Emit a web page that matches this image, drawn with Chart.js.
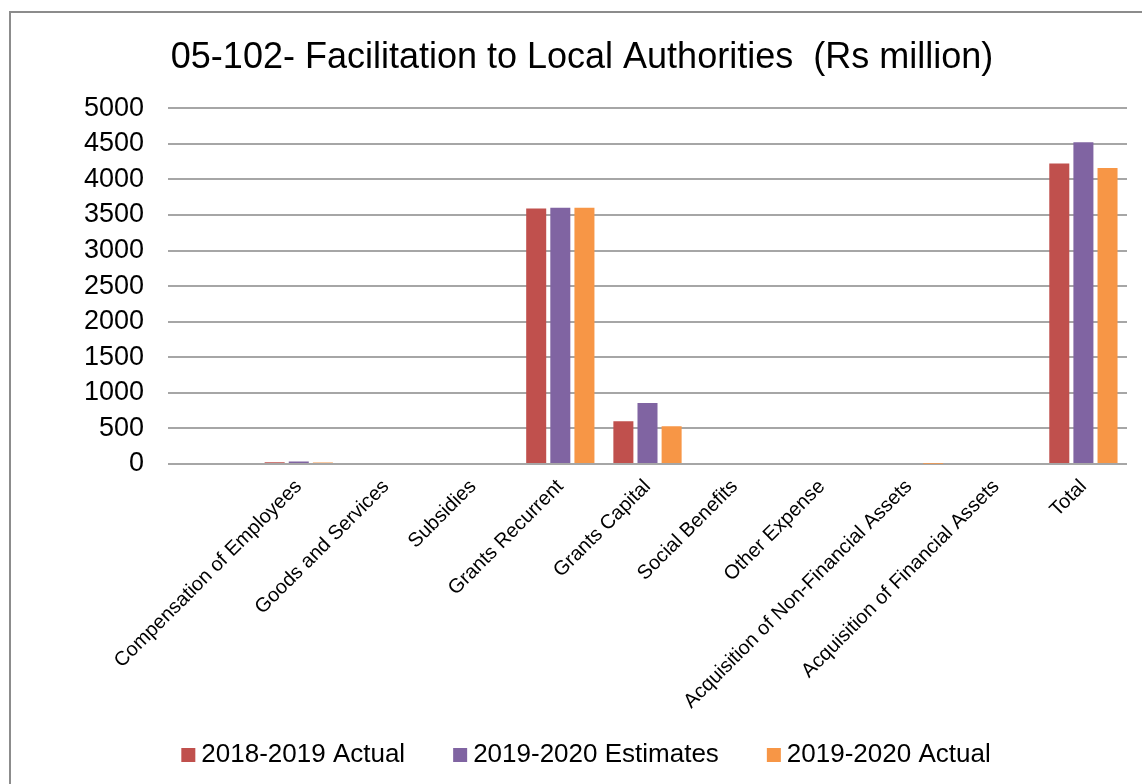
<!DOCTYPE html>
<html>
<head>
<meta charset="utf-8">
<script src="https://cdn.jsdelivr.net/npm/chart.js@4.4.1/dist/chart.umd.min.js"></script>
<style>
  html, body { margin: 0; padding: 0; background: #ffffff; }
  body { width: 1142px; height: 784px; overflow: hidden; position: relative; }
  #frame { position: absolute; left: 9px; top: 11px; width: 1160px; height: 800px;
           border: 2px solid #8c8c8c; box-sizing: border-box; }
  #wrap { position: absolute; left: 0; top: 0; width: 1142px; height: 784px; }
</style>
</head>
<body>
<div id="frame"></div>
<div id="wrap"><canvas id="chart"></canvas></div>
<script>
const categories = [
  '',
  'Compensation of Employees',
  'Goods and Services',
  'Subsidies',
  'Grants Recurrent',
  'Grants Capital',
  'Social Benefits',
  'Other Expense',
  'Acquisition of Non-Financial Assets',
  'Acquisition of Financial Assets',
  'Total'
];
const actual2018 =    [null, 25, 0, 0, 3590, 600, 0, 0, 0, 0, 4222];
const estimates2019 = [null, 35, 0, 0, 3600, 857, 0, 0, 15, 0, 4520];
const actual2019 =    [null, 22, 0, 0, 3600, 532, 0, 0, 5, 0, 4160];
const yTicks = [0, 500, 1000, 1500, 2000, 2500, 3000, 3500, 4000, 4500, 5000];

const FONT = "'Liberation Sans', Arial, sans-serif";

// Single-row legend along the bottom: square swatch, short gap, label.
const bottomLegend = {
  id: 'bottomLegend',
  afterDraw(chart) {
    const ctx = chart.ctx;
    const size = 26, box = 14, gap = 6, spacing = 48, y = 755;
    ctx.save();
    ctx.font = size + 'px ' + FONT;
    ctx.textBaseline = 'middle';
    ctx.textAlign = 'left';
    const items = chart.data.datasets.map(ds => ({
      text: ds.label, color: ds.backgroundColor, w: ctx.measureText(ds.label).width
    }));
    const total = items.reduce((s, it) => s + box + gap + it.w, 0) + spacing * (items.length - 1);
    let x = chart.width / 2 + 15 - total / 2;
    items.forEach(it => {
      ctx.fillStyle = it.color;
      ctx.fillRect(x, y - box / 2, box, box);
      ctx.fillStyle = '#000000';
      ctx.fillText(it.text, x + box + gap, y);
      x += box + gap + it.w + spacing;
    });
    ctx.restore();
  }
};

new Chart(document.getElementById('chart'), {
  type: 'bar',
  data: {
    labels: categories,
    datasets: [
      { label: '2018-2019 Actual', data: actual2018, backgroundColor: '#c0504d' },
      { label: '2019-2020 Estimates', data: estimates2019, backgroundColor: '#8064a2' },
      { label: '2019-2020 Actual', data: actual2019, backgroundColor: '#f79646' }
    ]
  },
  plugins: [bottomLegend],
  options: {
    responsive: true,
    maintainAspectRatio: false,
    animation: false,
    layout: { padding: { left: 37, right: 15, top: 14, bottom: 0 } },
    datasets: { bar: { categoryPercentage: 0.83, barPercentage: 0.83 } },
    plugins: {
      title: {
        display: true,
        text: '05-102- Facilitation to Local Authorities  (Rs million)',
        color: '#000000',
        font: { family: FONT, size: 36, weight: 'normal' },
        padding: { top: 22, bottom: 29 }
      },
      legend: { display: false },
      tooltip: { enabled: false }
    },
    scales: {
      x: {
        grid: { display: false },
        border: { display: false },
        ticks: {
          color: '#000000',
          font: { family: FONT, size: 20 },
          maxRotation: 45,
          minRotation: 45,
          autoSkip: false
        },
        afterFit(scale) { scale.height = 320; }
      },
      y: {
        min: 0,
        max: 5000,
        afterBuildTicks(scale) { scale.ticks = yTicks.map(v => ({ value: v })); },
        grid: { color: '#a6a6a6', lineWidth: 2, drawTicks: false },
        border: { display: false },
        ticks: {
          color: '#000000',
          font: { family: FONT, size: 27 },
          padding: 24,
          callback: v => String(v)
        },
        afterFit(scale) { scale.width = 131; }
      }
    }
  }
});
</script>
</body>
</html>
